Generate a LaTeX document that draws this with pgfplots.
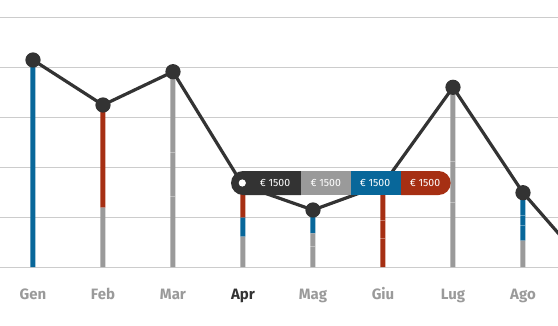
\documentclass[border=0pt]{standalone}
\usepackage{pgfplots}
\pgfplotsset{compat=1.18}
\usepackage{pgfplotstable}
\usepackage{fontspec}
\setmainfont{Fira Sans}

\definecolor{ink}{HTML}{333333}
\definecolor{stone}{HTML}{9A9A9A}
\definecolor{sea}{HTML}{08679A}
\definecolor{rust}{HTML}{A62F13}
\definecolor{rule}{HTML}{CCCCCC}

% monthly amounts, stacked: gray at the bottom, then blue, then red
\pgfplotstableread{
x gray  blue  red
0 0     4.14  0
1 1.186 0     2.054
2 3.906 0     0
3 0.606 0.38  0.644
4 0.674 0.466 0
5 0     0     1.65
6 3.594 0     0
7 0.526 0.96  0
}\bars

\pgfplotsset{panel/.style={
  width=558pt, height=267pt, scale only axis,
  at={(0,0)}, anchor=south west,
  xmin=-0.4714, xmax=7.5, ymin=0, ymax=5.34,
  axis line style={draw=none}, major tick length=0pt,
}}

\begin{document}
\begin{tikzpicture}
% grid and stacked bars
\begin{axis}[panel,
  ytick={0,1,2,3,4,5}, yticklabels={},
  xtick=\empty,
  ymajorgrids, grid style={rule, line width=0.8pt},
  ybar stacked, bar width=5pt]
\addplot[fill=stone, draw=none] table[x=x, y=gray] {\bars};
\addplot[fill=sea,   draw=none] table[x=x, y=blue] {\bars};
\addplot[fill=rust,  draw=none] table[x=x, y=red]  {\bars};
\end{axis}

% total line, segment dividers and month labels
\begin{axis}[panel,
  ytick=\empty,
  xtick={0,...,7},
  xticklabels={Gen,Feb,Mar,\textcolor{ink}{Apr},Mag,Giu,Lug,Ago},
  xticklabel style={anchor=base, yshift=-32pt,
    font=\fontsize{15}{17}\selectfont\bfseries, text=stone}]
\addplot[ink, line width=3.2pt, line join=round, mark=*, mark size=6pt,
  mark options={draw=none, fill=ink}]
  coordinates {(0,4.14) (1,3.24) (2,3.906) (3,1.63) (4,1.14) (5,1.65)
               (6,3.594) (7,1.486) (8,-0.12)};
\addplot[only marks, mark=-, mark size=2.5pt,
  mark options={draw=white, draw opacity=0.35, line width=0.8pt}]
  coordinates {(2,1.406) (2,2.286) (4,0.406) (5,0.574) (5,0.94)
               (6,1.286) (6,2.12) (7,0.84) (7,1.04)};
\coordinate (tt) at (axis cs:3,1.68);
\end{axis}

% tooltip for April, on top of everything
\fill[rust, rounded corners=12pt] ([shift={(146pt,-12pt)}]tt) rectangle ([shift={(207.7pt,12pt)}]tt);
\fill[ink, rounded corners=12pt] ([shift={(-12pt,-12pt)}]tt) rectangle ([shift={(70pt,12pt)}]tt);
\fill[stone] ([shift={(57.7pt,-12pt)}]tt) rectangle ([shift={(108pt,12pt)}]tt);
\fill[sea] ([shift={(108pt,-12pt)}]tt) rectangle ([shift={(158pt,12pt)}]tt);
\fill[white] ([shift={(-0.7pt,0pt)}]tt) circle[radius=3.6pt];
\begin{scope}[every node/.style={text=white, font=\fontsize{10.5}{12}\selectfont, inner sep=0pt}]
\node at ([shift={(32pt,0pt)}]tt) {€ 1500};
\node at ([shift={(82.7pt,0pt)}]tt) {€ 1500};
\node at ([shift={(132pt,0pt)}]tt) {€ 1500};
\node at ([shift={(182pt,0pt)}]tt) {€ 1500};
\end{scope}

\pgfresetboundingbox
\path (0pt,-58pt) rectangle (558pt,267pt);
\end{tikzpicture}
\end{document}
